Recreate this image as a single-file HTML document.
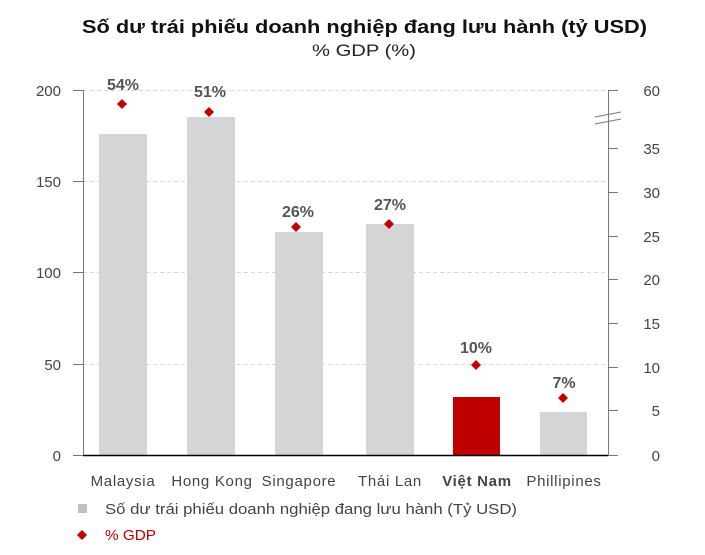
<!DOCTYPE html><html><head><meta charset="utf-8"><style>body{margin:0;background:#fff}svg{display:block}</style></head><body>
<svg width="705" height="555" xmlns="http://www.w3.org/2000/svg" font-family="Liberation Sans, sans-serif">
<text x="82" y="33" textLength="565" lengthAdjust="spacingAndGlyphs" font-size="18" font-weight="bold" fill="#111">Số dư trái phiếu doanh nghiệp đang lưu hành (tỷ USD)</text>
<text x="312" y="56" textLength="104" lengthAdjust="spacingAndGlyphs" font-size="17" fill="#222">% GDP (%)</text>
<g stroke="#d8d8d8" stroke-dasharray="4,3" stroke-width="1">
<line x1="83" x2="609" y1="90.5" y2="90.5"/><line x1="83" x2="609" y1="181.5" y2="181.5"/><line x1="83" x2="609" y1="272.5" y2="272.5"/><line x1="83" x2="609" y1="364.5" y2="364.5"/></g>
<g fill="#d4d5d7"><rect x="99" y="134" width="48" height="321"/><rect x="187" y="117" width="48" height="338"/><rect x="275" y="232" width="48" height="223"/><rect x="366" y="224" width="48" height="231"/><rect x="540" y="412" width="47" height="43"/></g>
<rect x="453" y="397" width="47" height="58" fill="#c00000"/>
<g stroke="#777" stroke-width="1"><line x1="83.5" y1="90" x2="83.5" y2="455"/>
<line x1="73" x2="83" y1="90.5" y2="90.5"/><line x1="73" x2="83" y1="181.5" y2="181.5"/><line x1="73" x2="83" y1="272.5" y2="272.5"/><line x1="73" x2="83" y1="364.5" y2="364.5"/><line x1="73" x2="83" y1="455.5" y2="455.5"/>
<line x1="608.5" y1="90" x2="608.5" y2="455"/>
<line x1="608" x2="618" y1="90.5" y2="90.5"/><line x1="608" x2="618" y1="148.5" y2="148.5"/><line x1="608" x2="618" y1="192.5" y2="192.5"/><line x1="608" x2="618" y1="236.5" y2="236.5"/><line x1="608" x2="618" y1="279.5" y2="279.5"/><line x1="608" x2="618" y1="323.5" y2="323.5"/><line x1="608" x2="618" y1="367.5" y2="367.5"/><line x1="608" x2="618" y1="410.5" y2="410.5"/><line x1="608" x2="618" y1="455.5" y2="455.5"/>
<line x1="595" y1="117" x2="621" y2="112"/><line x1="595" y1="124" x2="621" y2="119"/></g>
<line x1="83" x2="608" y1="455.5" y2="455.5" stroke="#000" stroke-width="1.5"/>
<g font-size="15" fill="#444" text-anchor="end"><text x="61" y="96">200</text><text x="61" y="187">150</text><text x="61" y="278">100</text><text x="61" y="370">50</text><text x="61" y="461">0</text></g>
<g font-size="15" fill="#444" text-anchor="end"><text x="660" y="96">60</text><text x="660" y="154">35</text><text x="660" y="198">30</text><text x="660" y="242">25</text><text x="660" y="285">20</text><text x="660" y="329">15</text><text x="660" y="373">10</text><text x="660" y="416">5</text><text x="660" y="461">0</text></g>
<g font-size="15" fill="#444" text-anchor="middle" letter-spacing="0.7"><text x="123" y="486">Malaysia</text><text x="212" y="486">Hong Kong</text><text x="299" y="486">Singapore</text><text x="390" y="486">Thái Lan</text><text x="477" y="486" font-weight="bold">Việt Nam</text><text x="564" y="486">Phillipines</text></g>
<g fill="#c00000"><path d="M122 99l5 5-5 5-5-5z"/><path d="M209 107l5 5-5 5-5-5z"/><path d="M296 222l5 5-5 5-5-5z"/><path d="M389 219l5 5-5 5-5-5z"/><path d="M476 360l5 5-5 5-5-5z"/><path d="M563 393l5 5-5 5-5-5z"/></g>
<g font-size="16" font-weight="bold" fill="#555" text-anchor="middle"><text x="123" y="90">54%</text><text x="210" y="97">51%</text><text x="298" y="217">26%</text><text x="390" y="210">27%</text><text x="476" y="353">10%</text><text x="564" y="388">7%</text></g>
<rect x="78" y="504" width="9" height="9" fill="#c0c0c0"/>
<text x="105" y="514" textLength="412" lengthAdjust="spacingAndGlyphs" font-size="15" fill="#444">Số dư trái phiếu doanh nghiệp đang lưu hành (Tỷ USD)</text>
<path d="M82 530l5 5-5 5-5-5z" fill="#c00000"/>
<text x="105" y="540" textLength="51" lengthAdjust="spacingAndGlyphs" font-size="15" fill="#c00000">% GDP</text>
</svg></body></html>
